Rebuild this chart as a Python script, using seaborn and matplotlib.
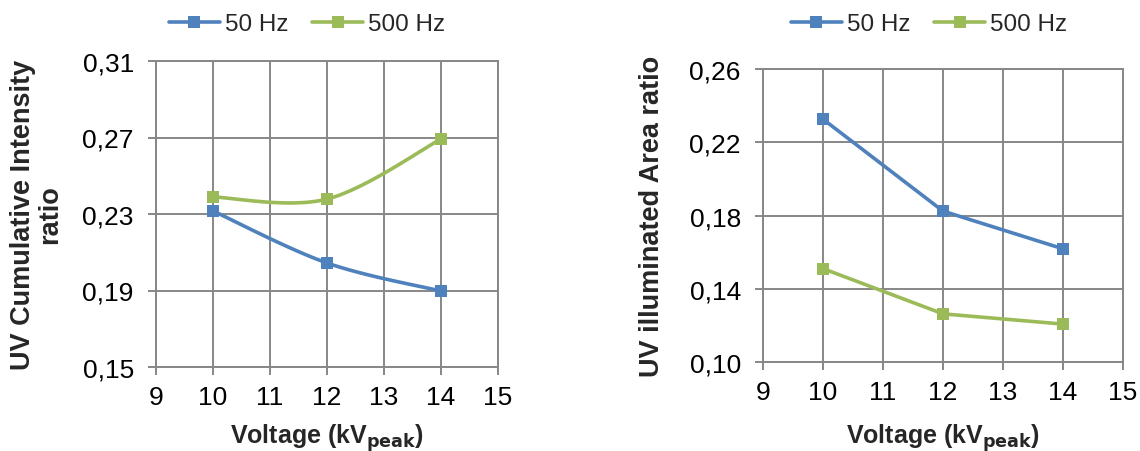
import numpy as np
import pandas as pd
import matplotlib
matplotlib.use("Agg")
import matplotlib.pyplot as plt
from matplotlib.lines import Line2D
import seaborn as sns

# Measured data
voltage = [10, 12, 14]
series_names = ["50 Hz", "500 Hz"]
intensity_50 = [0.2316, 0.2044, 0.1897]
intensity_500 = [0.2389, 0.2378, 0.2692]
area_50 = [0.2326, 0.1824, 0.1618]
area_500 = [0.1510, 0.1263, 0.1207]

x_ticks = [9, 10, 11, 12, 13, 14, 15]
y_ticks_left = [0.15, 0.19, 0.23, 0.27, 0.31]
y_labels_left = ["0,15", "0,19", "0,23", "0,27", "0,31"]
y_ticks_right = [0.10, 0.14, 0.18, 0.22, 0.26]
y_labels_right = ["0,10", "0,14", "0,18", "0,22", "0,26"]

colors = {"50 Hz": "#4F81BD", "500 Hz": "#9BBB59"}
grid_col = "#878787"

sns.set_theme(style="white")
plt.rcParams["font.family"] = ["Liberation Sans", "DejaVu Sans"]

W, H = 1140, 452


def smooth_curve(xs, ys, n=40):
    """Cubic Bezier smoothing through the points (spreadsheet-style smoothed line)."""
    pts = np.column_stack([xs, ys]).astype(float)
    ext = np.vstack([pts[0], pts, pts[-1]])
    out = []
    t = np.linspace(0, 1, n)[:, None]
    for i in range(len(pts) - 1):
        p0, p1 = ext[i + 1], ext[i + 2]
        c1 = p0 + (ext[i + 2] - ext[i]) / 6.0
        c2 = p1 - (ext[i + 3] - ext[i + 1]) / 6.0
        seg = ((1 - t) ** 3) * p0 + 3 * ((1 - t) ** 2) * t * c1 + 3 * (1 - t) * t ** 2 * c2 + t ** 3 * p1
        out.append(seg if i == 0 else seg[1:])
    arr = np.vstack(out)
    return arr[:, 0], arr[:, 1]


def frame(values_a, values_b, smooth):
    rows = []
    for name, vals in zip(series_names, [values_a, values_b]):
        if smooth:
            cx, cy = smooth_curve(voltage, vals)
        else:
            cx, cy = np.array(voltage, float), np.array(vals, float)
        for a, b in zip(cx, cy):
            rows.append({"Voltage": a, "ratio": b, "series": name})
    return pd.DataFrame(rows)


def points(values_a, values_b):
    rows = []
    for name, vals in zip(series_names, [values_a, values_b]):
        for a, b in zip(voltage, vals):
            rows.append({"Voltage": a, "ratio": b, "series": name})
    return pd.DataFrame(rows)


fig = plt.figure(figsize=(W / 100, H / 100), dpi=100)
ax1 = fig.add_axes([156 / W, 1 - 368 / H, 342 / W, 306 / H])
ax2 = fig.add_axes([763 / W, 1 - 363 / H, 360 / W, 293 / H])

panels = [
    (ax1, intensity_50, intensity_500, True, y_ticks_left, y_labels_left,
     "UV Cumulative Intensity\nratio", 37, 438, 307),
    (ax2, area_50, area_500, False, y_ticks_right, y_labels_right,
     "UV illuminated Area ratio", 652, 438, 929),
]

for ax, a, b, smooth, yt, yl, ylabel, ylab_x, xlab_y, leg_x in panels:
    sns.lineplot(data=frame(a, b, smooth), x="Voltage", y="ratio", hue="series",
                 palette=colors, sort=False, estimator=None, linewidth=2.6,
                 legend=False, ax=ax, zorder=3)
    sns.scatterplot(data=points(a, b), x="Voltage", y="ratio", hue="series",
                    palette=colors, marker="s", s=75, linewidth=0,
                    legend=False, ax=ax, zorder=4)
    ax.set_xlim(x_ticks[0], x_ticks[-1])
    ax.set_ylim(yt[0], yt[-1])
    ax.set_xticks(x_ticks)
    ax.set_xticklabels([str(v) for v in x_ticks])
    ax.set_yticks(yt)
    ax.set_yticklabels(yl)
    ax.grid(True, color=grid_col, linewidth=1.4)
    ax.set_axisbelow(True)
    for sp in ax.spines.values():
        sp.set_color(grid_col)
        sp.set_linewidth(1.4)
    ax.tick_params(axis="both", which="major", length=6, width=1.4, color=grid_col,
                   direction="out", labelsize=19, labelcolor="black", left=True, bottom=True)
    ax.tick_params(axis="y", pad=10)
    ax.tick_params(axis="x", pad=7)

    ax.set_xlabel(r"Voltage (kV$_{\mathbf{peak}}$)", fontsize=18, fontweight="bold")
    ax.set_ylabel(ylabel, fontsize=19.5, fontweight="bold", linespacing=1.05)
    ax.xaxis.label.set_verticalalignment("center")
    ax.yaxis.label.set_verticalalignment("center")
    pos = ax.get_position()
    ax.yaxis.set_label_coords(ylab_x / W, pos.y0 + pos.height / 2, transform=fig.transFigure)
    ax.xaxis.set_label_coords(pos.x0 + pos.width / 2, 1 - xlab_y / H, transform=fig.transFigure)

    handles = [Line2D([0], [0], color=colors[n], linewidth=2.6, marker="s",
                      markersize=8.5, markeredgewidth=0) for n in series_names]
    ax.legend(handles, series_names, loc="center", bbox_to_anchor=(leg_x / W, 1 - 25 / H),
              bbox_transform=fig.transFigure, ncol=2, frameon=False, fontsize=17.5,
              handlelength=2.1, handletextpad=0.2, columnspacing=1.0, borderaxespad=0,
              borderpad=0)

fig.savefig("out.png", dpi=100, facecolor="white")
